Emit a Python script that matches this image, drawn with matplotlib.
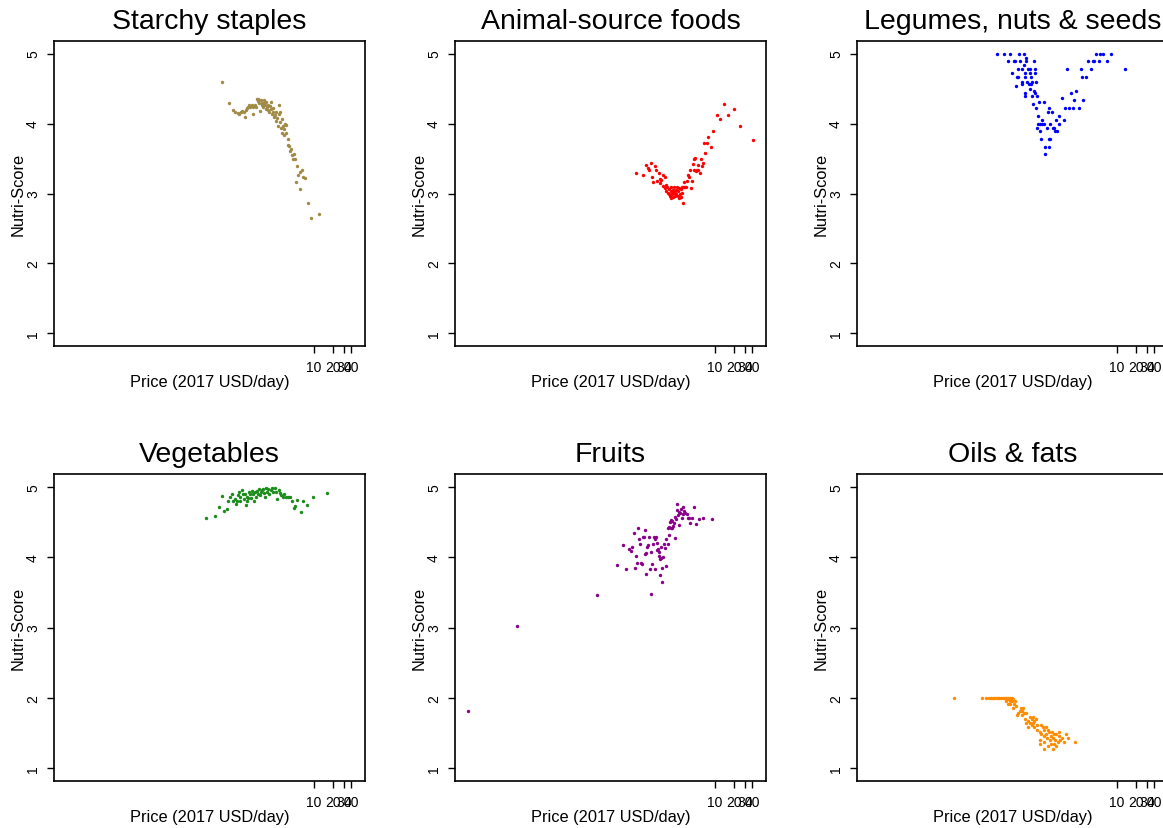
import matplotlib
matplotlib.use("Agg")
import matplotlib.pyplot as plt

plt.rcParams['font.family'] = ['Liberation Sans', 'DejaVu Sans']

titles = ["Starchy staples", "Animal-source foods", "Legumes, nuts & seeds",
          "Vegetables", "Fruits", "Oils & fats"]
colors = ["#A08A45", "#FF0000", "#0000FF", "#1A8C1A", "#8B008B", "#FF8C00"]

x_ticks = [10, 20, 30, 40]
x_tick_labels = ["10", "20", "30", "40"]
y_ticks = [1, 2, 3, 4, 5]
x_label = "Price (2017 USD/day)"
y_label = "Nutri-Score"

# ---- Starchy staples ----
starchy_price = [0.334, 0.431, 0.50, 0.544, 0.593, 0.622, 0.661, 0.686, 0.738, 0.766,
                 0.804, 0.834, 0.875, 0.918, 0.953, 1.00, 1.04, 1.06, 1.12, 1.17,
                 1.22, 1.25, 1.28, 1.32, 1.36, 1.39, 1.44, 1.48, 1.51, 1.55,
                 1.59, 1.63, 1.67, 1.71, 1.75, 1.80, 1.82, 1.88, 1.93, 2.00,
                 2.03, 2.10, 2.16, 2.21, 2.26, 2.35, 2.41, 2.49, 2.56, 2.62,
                 2.69, 2.75, 2.82, 2.89, 2.96, 3.03, 3.11, 3.18, 3.26, 3.34,
                 3.43, 3.51, 3.60, 3.78, 3.87, 3.96, 4.06, 4.22, 4.37, 4.59,
                 4.70, 4.94, 5.31, 5.57, 6.00, 6.46, 6.78, 7.29, 5.06, 5.85,
                 8.13, 8.97, 12.0]
starchy_score = [4.60, 4.29, 4.19, 4.16, 4.15, 4.13, 4.16, 4.18, 4.17, 4.10,
                 4.19, 4.22, 4.24, 4.26, 4.23, 4.27, 4.24, 4.13, 4.26, 4.24,
                 4.35, 4.32, 4.35, 4.29, 4.18, 4.33, 4.27, 4.30, 4.23, 4.34,
                 4.29, 4.26, 4.31, 4.21, 4.24, 4.27, 4.19, 4.16, 4.25, 4.31,
                 4.21, 4.13, 4.22, 4.16, 4.09, 4.12, 4.16, 4.03, 4.08, 3.97,
                 4.13, 4.26, 4.16, 4.02, 3.94, 4.07, 3.87, 3.97, 3.92, 3.83,
                 3.99, 3.86, 3.98, 3.78, 3.69, 3.68, 3.61, 3.64, 3.55, 3.50,
                 3.57, 3.49, 3.39, 3.27, 3.31, 3.34, 3.23, 3.22, 3.17, 3.06,
                 2.87, 2.65, 2.70]

# ---- Animal-source foods ----
animal_price = [0.538, 0.687, 0.778, 0.838, 0.879, 0.935, 0.970, 1.02, 1.10, 1.14,
                1.18, 1.24, 1.30, 1.33, 1.37, 1.44, 1.47, 1.55, 1.55, 1.62,
                1.62, 1.71, 1.75, 1.79, 1.84, 1.88, 1.93, 1.98, 2.03, 2.08,
                2.13, 2.18, 2.23, 2.29, 2.35, 2.40, 2.44, 2.53, 2.59, 2.65,
                2.72, 2.79, 2.86, 2.93, 3.00, 3.11, 3.15, 3.23, 3.31, 3.48,
                3.56, 3.66, 3.84, 3.98, 4.13, 4.24, 4.40, 4.56, 4.67, 4.79,
                4.91, 5.15, 5.28, 5.41, 5.69, 5.97, 6.12, 6.43, 6.59, 6.92,
                7.45, 7.82, 8.63, 9.29, 10.6, 11.9, 13.9, 16.3, 19.9, 25.1,
                41.0, 1.95, 2.10, 2.25, 2.50, 2.00]
animal_score = [3.29, 3.27, 3.41, 3.37, 3.33, 3.44, 3.23, 3.17, 3.39, 3.34,
                3.18, 3.29, 3.21, 3.15, 3.20, 3.26, 3.11, 3.23, 3.08, 3.12,
                3.03, 3.10, 3.01, 3.06, 2.99, 2.97, 3.04, 3.09, 2.99, 3.01,
                2.95, 3.03, 3.09, 3.01, 3.05, 2.99, 3.10, 3.03, 3.08, 2.93,
                2.99, 2.95, 3.06, 3.01, 3.10, 2.87, 3.10, 3.16, 3.09, 3.09,
                3.18, 3.27, 3.23, 3.34, 3.08, 3.18, 3.42, 3.34, 3.49, 3.51,
                3.32, 3.34, 3.41, 3.33, 3.30, 3.49, 3.39, 3.44, 3.72, 3.58,
                3.72, 3.81, 3.67, 3.89, 4.12, 4.07, 4.28, 4.12, 4.21, 3.97,
                3.77, 2.93, 3.05, 2.97, 2.96, 3.02]

# ---- Legumes, nuts & seeds ----
legume_price = [0.117, 0.154, 0.193, 0.265, 0.324, 4.58, 5.31, 6.01, 8.09,
                0.179, 0.218, 0.229, 0.272, 0.349, 0.458, 3.40, 4.05, 4.26, 5.06, 6.81,
                0.340, 0.316,
                0.259, 0.293, 0.376, 0.405, 0.481, 1.58, 2.59, 3.76, 13.6,
                0.202, 0.332, 0.394, 0.481,
                0.247, 0.259, 0.332, 0.415, 2.72, 3.16,
                0.301, 0.357, 0.426, 0.493,
                0.301, 0.385, 0.415,
                0.240, 0.394, 0.458, 2.23,
                0.332, 0.481, 1.83,
                0.332, 0.436, 0.519, 1.33,
                2.07, 2.86, 0.558, 0.681, 0.447,
                0.506, 0.809, 1.47, 1.70, 1.93, 2.47,
                0.771, 0.893, 0.531, 1.15,
                0.632, 1.04, 1.40,
                0.545, 0.586, 0.632, 0.664, 0.851, 1.17,
                0.519, 0.752, 0.940, 0.986,
                0.573, 1.01, 1.09,
                0.601, 0.809, 0.851,
                0.698, 0.809, 0.698]
legume_score = [5.00, 5.00, 5.00, 5.00, 5.00, 5.00, 5.00, 5.00, 5.00,
                4.89, 4.89, 4.89, 4.89, 4.89, 4.89, 4.89, 4.89, 4.89, 4.89, 4.89,
                4.94, 4.83,
                4.78, 4.78, 4.78, 4.78, 4.78, 4.78, 4.78, 4.78, 4.78,
                4.72, 4.72, 4.72, 4.72,
                4.66, 4.66, 4.66, 4.66, 4.66, 4.66,
                4.60, 4.60, 4.60, 4.60,
                4.56, 4.56, 4.56,
                4.53, 4.50, 4.47, 4.47,
                4.44, 4.44, 4.44,
                4.39, 4.39, 4.39, 4.37,
                4.33, 4.33, 4.31, 4.31, 4.28,
                4.22, 4.22, 4.22, 4.22, 4.22, 4.22,
                4.17, 4.17, 4.11, 4.11,
                4.05, 4.05, 4.05,
                3.99, 3.99, 3.99, 3.99, 3.99, 3.99,
                3.94, 3.94, 3.94, 3.94,
                3.89, 3.89, 3.89,
                3.78, 3.78, 3.78,
                3.66, 3.66, 3.56]

# ---- Vegetables ----
veg_price = [0.184, 0.256, 0.301, 0.329, 0.354, 0.401, 0.416, 0.454, 0.476, 0.501,
             0.533, 0.560, 0.581, 0.596, 0.618, 0.641, 0.658, 0.690, 0.718, 0.745,
             0.773, 0.802, 0.822, 0.841, 0.875, 0.908, 0.942, 0.977, 1.01, 1.05,
             1.08, 1.14, 1.19, 1.22, 1.27, 1.32, 1.36, 1.42, 1.47, 1.53,
             1.56, 1.62, 1.69, 1.77, 1.84, 1.91, 2.00, 2.10, 2.21, 2.32,
             2.44, 2.56, 2.70, 2.83, 2.98, 3.13, 3.29, 3.54, 3.81, 4.11,
             4.43, 4.76, 5.01, 5.40, 6.11, 6.75, 7.82, 9.53, 16.0]
veg_score = [4.56, 4.59, 4.71, 4.87, 4.66, 4.68, 4.80, 4.86, 4.90, 4.79,
             4.83, 4.75, 4.80, 4.88, 4.93, 4.79, 4.86, 4.95, 4.90, 4.83,
             4.89, 4.74, 4.80, 4.86, 4.84, 4.93, 4.90, 4.84, 4.94, 4.89,
             4.79, 4.92, 4.86, 4.94, 4.90, 4.96, 4.88, 4.92, 4.95, 4.97,
             4.91, 4.85, 4.98, 4.93, 4.97, 4.90, 4.95, 4.98, 4.92, 4.98,
             4.92, 4.83, 4.95, 4.91, 4.88, 4.85, 4.90, 4.86, 4.86, 4.85,
             4.79, 4.70, 4.73, 4.81, 4.64, 4.80, 4.74, 4.85, 4.91]

# ---- Fruits ----
fruit_price = [0.00105, 0.00647, 0.128,
               0.269, 0.328, 0.376, 0.421, 0.448, 0.470, 0.500, 0.519, 0.546, 0.566,
               0.581, 0.603, 0.617, 0.641, 0.673, 0.698, 0.716, 0.743, 0.762, 0.782,
               0.791, 0.811, 0.841, 0.873, 0.906, 0.929, 0.953, 0.975, 1.01, 1.05,
               1.08, 1.09, 1.12, 1.15, 1.17, 1.22, 1.25, 1.28, 1.30, 1.31,
               1.35, 1.38, 1.42, 1.43, 1.47, 1.52, 1.58, 1.62, 1.66, 1.73,
               1.75, 1.79, 1.84, 1.88, 1.93, 1.98, 2.03, 2.07, 2.13, 2.18,
               2.24, 2.29, 2.35, 2.41, 2.47, 2.53, 2.59, 2.66, 2.73, 2.86,
               2.94, 3.01, 3.08, 3.21, 3.33, 3.49, 3.67, 3.85, 4.00, 4.26,
               4.53, 4.94, 5.58, 6.49, 9.06]
fruit_score = [1.82, 3.02, 3.46,
               3.89, 4.17, 3.83, 4.11, 4.09, 4.15, 4.34, 3.85, 4.02, 3.92,
               4.41, 4.25, 4.18, 3.91, 3.90, 4.29, 4.29, 4.38, 4.04, 3.76,
               4.06, 4.14, 4.17, 4.29, 3.83, 4.07, 3.47, 3.90, 4.18, 4.29,
               3.83, 4.26, 4.29, 4.20, 4.10, 4.11, 4.07, 4.02, 3.74, 3.97,
               4.14, 3.99, 3.84, 3.64, 4.00, 4.19, 4.13, 3.87, 4.26, 4.19,
               4.41, 4.31, 4.43, 4.50, 4.42, 4.53, 4.41, 4.51, 4.44, 4.49,
               4.27, 4.57, 4.54, 4.67, 4.75, 4.60, 4.46, 4.64, 4.63, 4.68,
               4.55, 4.71, 4.61, 4.65, 4.62, 4.61, 4.56, 4.55, 4.49, 4.56,
               4.71, 4.47, 4.54, 4.56, 4.54]

# ---- Oils & fats ----
oil_price = [0.0241, 0.0665, 0.0791, 0.0873, 0.0942, 0.101, 0.106, 0.113, 0.121, 0.128,
             0.136, 0.145, 0.155, 0.164, 0.175, 0.188, 0.203,
             0.162, 0.179, 0.198, 0.213,
             0.166, 0.188, 0.208, 0.230,
             0.175, 0.193, 0.218,
             0.236,
             0.213, 0.287, 0.309,
             0.273, 0.294,
             0.260, 0.324, 0.350,
             0.247, 0.301,
             0.406, 0.448,
             0.333, 0.427, 0.494,
             0.367, 0.471,
             0.341, 0.395, 0.448,
             0.427, 0.520, 0.603,
             0.377, 0.459, 0.649, 0.734,
             0.520, 0.682, 0.791,
             0.574, 0.811, 0.895, 1.17,
             0.603, 0.716, 0.964, 1.06, 1.51,
             0.665, 0.873, 1.15,
             0.753, 0.942, 1.33, 1.66,
             0.587, 0.832, 1.01, 1.21,
             0.682, 1.12, 1.43, 2.08,
             0.587, 0.873, 0.989,
             0.791, 1.06,
             0.682, 0.942]
oil_score = [2.00, 2.00, 2.00, 2.00, 2.00, 2.00, 2.00, 2.00, 2.00, 2.00,
             2.00, 2.00, 2.00, 2.00, 2.00, 2.00, 2.00,
             1.98, 1.98, 1.98, 1.98,
             1.95, 1.95, 1.95, 1.95,
             1.92, 1.92, 1.92,
             1.89,
             1.85, 1.85, 1.85,
             1.82, 1.82,
             1.79, 1.79, 1.79,
             1.76, 1.76,
             1.73, 1.73,
             1.70, 1.70, 1.70,
             1.67, 1.67,
             1.64, 1.64, 1.64,
             1.61, 1.61, 1.61,
             1.59, 1.59, 1.59, 1.59,
             1.55, 1.55, 1.55,
             1.52, 1.52, 1.52, 1.52,
             1.49, 1.49, 1.49, 1.49, 1.49,
             1.46, 1.46, 1.46,
             1.43, 1.43, 1.43, 1.43,
             1.40, 1.40, 1.40, 1.40,
             1.38, 1.38, 1.38, 1.38,
             1.35, 1.35, 1.35,
             1.31, 1.31,
             1.27, 1.27]

prices = [starchy_price, animal_price, legume_price, veg_price, fruit_price, oil_price]
scores = [starchy_score, animal_score, legume_score, veg_score, fruit_score, oil_score]

W, H = 1163, 829
fig = plt.figure(figsize=(W / 100, H / 100), dpi=100)

col_left = [54, 455, 857]
ax_w = 311
row_top = [42, 475]
row_h = [305, 307]

for i in range(6):
    r, c = divmod(i, 3)
    left = col_left[c] / W
    bottom = (H - row_top[r] - row_h[r]) / H
    ax = fig.add_axes([left, bottom, ax_w / W, row_h[r] / H])
    ax.scatter(prices[i], scores[i], s=6, color=colors[i], linewidths=0)
    ax.set_xscale('log')
    ax.set_xlim(10 ** -3.18, 10 ** 1.82)
    ax.set_ylim(0.82, 5.18)
    ax.set_xticks(x_ticks)
    ax.set_xticklabels(x_tick_labels)
    ax.xaxis.set_minor_locator(matplotlib.ticker.NullLocator())
    ax.set_yticks(y_ticks)
    ax.set_yticklabels([str(v) for v in y_ticks], rotation=90, va='center')
    ax.tick_params(direction='out', length=5, width=1, labelsize=10,
                   colors='black', pad=5)
    for sp in ax.spines.values():
        sp.set_linewidth(1.2)
    ax.set_title(titles[i], fontsize=20.5, pad=9)
    ax.text(0.5, -36 / row_h[r], x_label, transform=ax.transAxes,
            ha='center', va='center', fontsize=11.8)
    ax.text(-36 / ax_w, 0.5, y_label, transform=ax.transAxes, rotation=90,
            ha='center', va='center', fontsize=11.8)

fig.savefig("out.png", dpi=100)
